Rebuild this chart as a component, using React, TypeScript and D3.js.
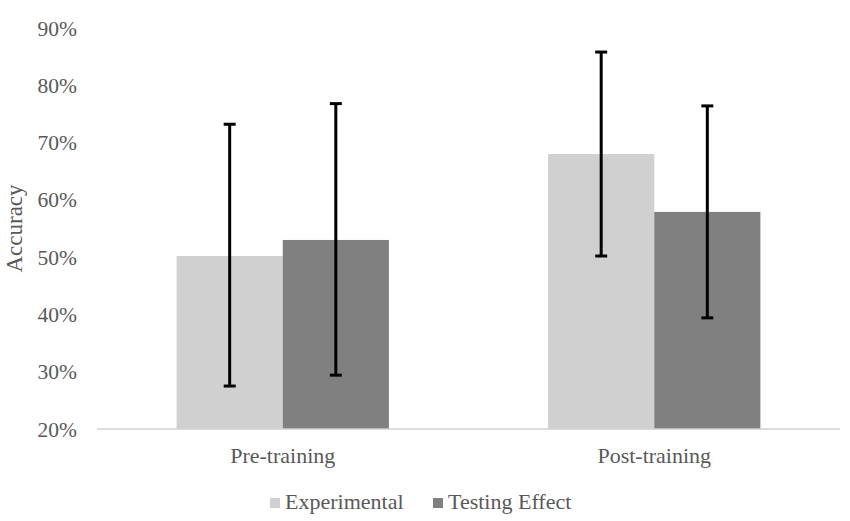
import React from "react";
import * as d3 from "d3";

const categories = ["Pre-training", "Post-training"];
const seriesNames = ["Experimental", "Testing Effect"];
const experimental = [0.502, 0.68];
const testingEffect = [0.53, 0.579];
const expLow = [0.275, 0.502];
const expHigh = [0.732, 0.858];
const testLow = [0.294, 0.394];
const testHigh = [0.768, 0.764];
const yTicks = [0.2, 0.3, 0.4, 0.5, 0.6, 0.7, 0.8, 0.9];
const colors = ["#d0d0d0", "#808080"];

export default function App() {
  const W = 850, H = 521;
  const left = 97, right = 840, top = 28, bottom = 429;
  const x = d3.scaleBand<string>().domain(categories).range([left, right]).paddingInner(0).paddingOuter(0);
  const barW = x.bandwidth() / 3.5;
  const y = d3.scaleLinear().domain([0.2, 0.9]).range([bottom, top]);
  const series = [
    { name: seriesNames[0], vals: experimental, lo: expLow, hi: expHigh },
    { name: seriesNames[1], vals: testingEffect, lo: testLow, hi: testHigh },
  ];
  const font = "'Liberation Serif', 'Times New Roman', serif";
  const textColor = "#595959";
  return (
    <svg width={W} height={H} style={{ position: "absolute", left: 0, top: 0, background: "#fff" }} fontFamily={font}>
      {yTicks.map((t) => (
        <text key={t} x={77} y={y(t)} dy="0.35em" textAnchor="end" fontSize={21.5} fill={textColor}>
          {d3.format(".0%")(t)}
        </text>
      ))}
      <text transform={`translate(22,${(top + bottom) / 2}) rotate(-90)`} textAnchor="middle" fontSize={23} fill={textColor}>
        Accuracy
      </text>
      {categories.map((c, i) => {
        const cx = (x(c) as number) + x.bandwidth() / 2;
        return (
          <g key={c}>
            {series.map((s, j) => {
              const bx = cx - barW + j * barW;
              return (
                <rect key={s.name} x={bx} y={y(s.vals[i])} width={barW} height={bottom - y(s.vals[i])} fill={colors[j]} />
              );
            })}
          </g>
        );
      })}
      <line x1={left} x2={right} y1={bottom} y2={bottom} stroke="#d0d0d0" strokeWidth={1.5} />
      {categories.map((c, i) => {
        const cx = (x(c) as number) + x.bandwidth() / 2;
        return (
          <g key={c + "e"}>
            {series.map((s, j) => {
              const ex = cx - barW / 2 + j * barW;
              return (
                <g key={s.name} stroke="#000" strokeWidth={3}>
                  <line x1={ex} x2={ex} y1={y(s.hi[i])} y2={y(s.lo[i])} />
                  <line x1={ex - 6} x2={ex + 6} y1={y(s.hi[i])} y2={y(s.hi[i])} />
                  <line x1={ex - 6} x2={ex + 6} y1={y(s.lo[i])} y2={y(s.lo[i])} />
                </g>
              );
            })}
            <text x={cx} y={463} textAnchor="middle" fontSize={22} fill={textColor}>
              {c}
            </text>
          </g>
        );
      })}
      {seriesNames.map((n, j) => {
        const lx = j === 0 ? 270 : 433;
        return (
          <g key={n}>
            <rect x={lx} y={498} width={10} height={10} fill={colors[j]} />
            <text x={lx + 15} y={509} fontSize={22} fill={textColor}>
              {n}
            </text>
          </g>
        );
      })}
    </svg>
  );
}
